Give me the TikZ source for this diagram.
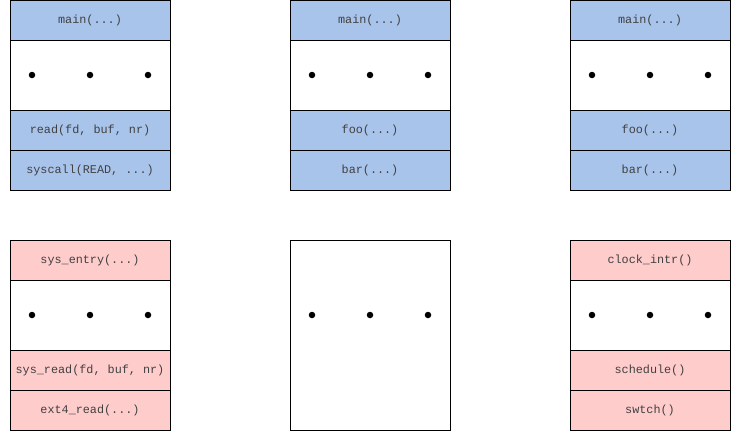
\documentclass[tikz,border=0pt]{standalone}
\usepackage{fontspec}
\setmonofont{Liberation Mono}
\definecolor{fblue}{HTML}{A9C4EB}
\definecolor{fred}{HTML}{FFCCCC}
\definecolor{txt}{HTML}{404040}
\begin{document}
\begin{tikzpicture}[x=1pt,y=-1pt,
  frame/.style={draw=black,line width=1pt,minimum width=160pt,inner sep=0pt,outer sep=0pt,anchor=north west,text=txt,font=\ttfamily\fontsize{11.8}{13}\selectfont},
  bluebox/.style={frame,fill=fblue,minimum height=40pt},
  redbox/.style={frame,fill=fred,minimum height=40pt},
  gapbox/.style={frame,fill=white,minimum height=70pt},
  tallbox/.style={frame,fill=white,minimum height=190pt},
  dot/.style={circle,fill=black,inner sep=0pt,minimum size=6.5pt}]
\useasboundingbox (0,0) rectangle (741,431);
% column A top
\node[bluebox] (a1) at (10,0) {main(...)};
\node[gapbox] (a2) at (10,40) {};
\node[bluebox] (a3) at (10,110) {read(fd, buf, nr)};
\node[bluebox] (a4) at (10,150) {syscall(READ, ...)};
% column B top
\node[bluebox] (b1) at (290,0) {main(...)};
\node[gapbox] (b2) at (290,40) {};
\node[bluebox] (b3) at (290,110) {foo(...)};
\node[bluebox] (b4) at (290,150) {bar(...)};
% column C top
\node[bluebox] (c1) at (570,0) {main(...)};
\node[gapbox] (c2) at (570,40) {};
\node[bluebox] (c3) at (570,110) {foo(...)};
\node[bluebox] (c4) at (570,150) {bar(...)};
% column A bottom
\node[redbox] (d1) at (10,240) {sys\_entry(...)};
\node[gapbox] (d2) at (10,280) {};
\node[redbox] (d3) at (10,350) {sys\_read(fd, buf, nr)};
\node[redbox] (d4) at (10,390) {ext4\_read(...)};
% column B bottom
\node[tallbox] (e1) at (290,240) {};
% column C bottom
\node[redbox] (f1) at (570,240) {clock\_intr()};
\node[gapbox] (f2) at (570,280) {};
\node[redbox] (f3) at (570,350) {schedule()};
\node[redbox] (f4) at (570,390) {swtch()};
% dots
\foreach \x in {32,90,148}{
  \node[dot] at (\x,75) {};
  \node[dot] at (\x+280,75) {};
  \node[dot] at (\x+560,75) {};
  \node[dot] at (\x,315) {};
  \node[dot] at (\x+280,315) {};
  \node[dot] at (\x+560,315) {};
}
\end{tikzpicture}
\end{document}
